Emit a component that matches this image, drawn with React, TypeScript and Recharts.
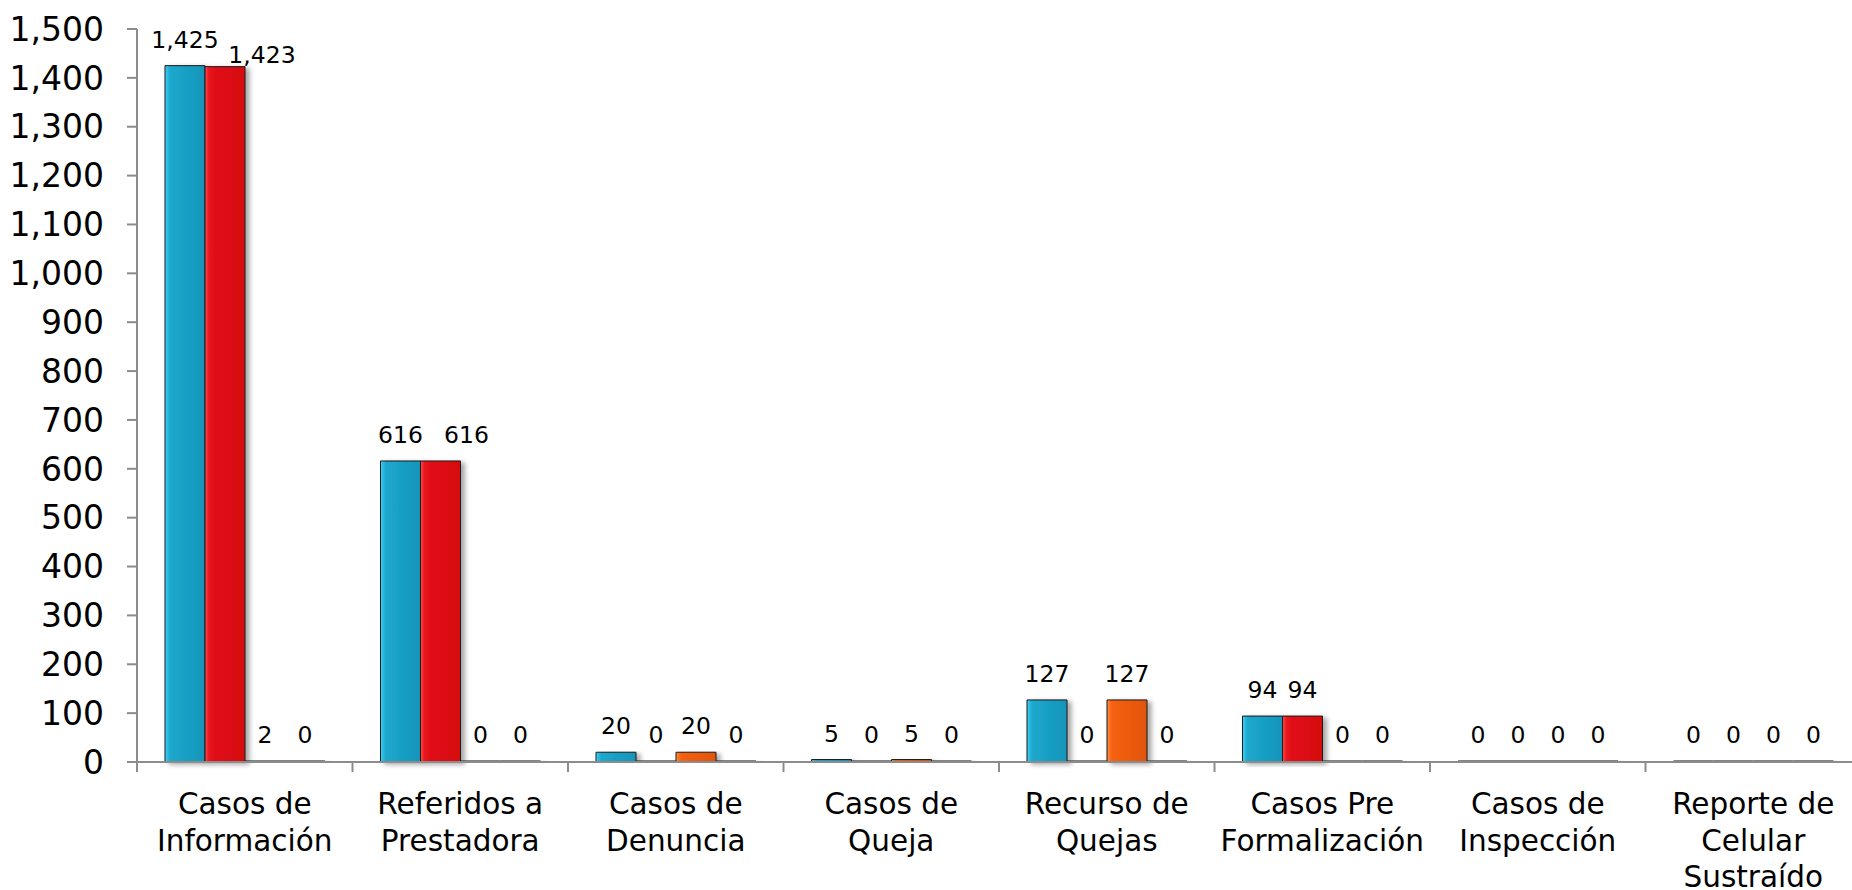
import React from "react";
import { Bar, BarChart, LabelList, XAxis, YAxis } from "recharts";

// Casos por tipo, 4 series agrupadas

const categories = [
  "Casos de\nInformación",
  "Referidos a\nPrestadora",
  "Casos de\nDenuncia",
  "Casos de\nQueja",
  "Recurso de\nQuejas",
  "Casos Pre\nFormalización",
  "Casos de\nInspección",
  "Reporte de\nCelular\nSustraído",
];
const serie1 = [1425, 616, 20, 5, 127, 94, 0, 0];
const serie2 = [1423, 616, 0, 0, 0, 94, 0, 0];
const serie3 = [2, 0, 20, 5, 127, 0, 0, 0];
const serie4 = [0, 0, 0, 0, 0, 0, 0, 0];
const yTicks = [0, 100, 200, 300, 400, 500, 600, 700, 800, 900, 1000, 1100, 1200, 1300, 1400, 1500];

const data = categories.map((name, i) => ({
  name,
  s1: serie1[i],
  s2: serie2[i],
  s3: serie3[i],
  s4: serie4[i],
}));

const FONT = "'DejaVu Sans', sans-serif";
const CHART_W = 1861;
const CHART_H = 890;
const Y_W = 137;
const BAND = (CHART_W - Y_W) / categories.length;
const AXIS = "#8c8c8c";

const fmt = (v: any) => Number(v).toLocaleString("en-US");

function XTick({ x, y, payload }: any) {
  const lines = String(payload.value).split("\n");
  return (
    <g>
      <line x1={x - BAND / 2} x2={x - BAND / 2} y1={y} y2={y + 10} stroke={AXIS} strokeWidth={2} />
      <text x={x} y={y + 52} textAnchor="middle" fontSize={29.5} fill="#000" fontFamily={FONT}>
        {lines.map((l, i) => (
          <tspan key={i} x={x} dy={i === 0 ? 0 : 36.5}>
            {l}
          </tspan>
        ))}
      </text>
    </g>
  );
}

function ValueLabel({ x, y, width, height, value, index, series }: any) {
  // Excel desplaza las etiquetas rojas que chocan con la azul vecina
  let dx = 0;
  let gap = 18;
  if (series === "s2" && index === 0) {
    dx = 37;
    gap = 4;
  } else if (series === "s2" && index === 1) {
    dx = 26;
  }
  const top = Math.min(y, y + height);
  return (
    <text
      x={x + width / 2 + dx}
      y={top - gap}
      textAnchor="middle"
      fontSize={23.5}
      fill="#000"
      fontFamily={FONT}
    >
      {fmt(value)}
    </text>
  );
}

export default function App() {
  return (
    <div style={{ position: "absolute", left: 0, top: 0, width: 1852, height: 890, overflow: "hidden", background: "#fff" }}>
      <BarChart
        width={CHART_W}
        height={CHART_H}
        data={data}
        margin={{ top: 29, right: 0, left: 0, bottom: 0 }}
        barCategoryGap={28}
        barGap={0}
      >
        <defs>
          <linearGradient id="gBlue" x1="0" y1="0" x2="1" y2="0">
            <stop offset="0%" stopColor="#45d2f8" />
            <stop offset="9%" stopColor="#22b2da" />
            <stop offset="14%" stopColor="#1ca7cd" />
            <stop offset="100%" stopColor="#1595b9" />
          </linearGradient>
          <linearGradient id="gRed" x1="0" y1="0" x2="1" y2="0">
            <stop offset="0%" stopColor="#ff4a4a" />
            <stop offset="9%" stopColor="#ef1821" />
            <stop offset="14%" stopColor="#e3121a" />
            <stop offset="100%" stopColor="#d60a0e" />
          </linearGradient>
          <linearGradient id="gOrange" x1="0" y1="0" x2="1" y2="0">
            <stop offset="0%" stopColor="#ff9048" />
            <stop offset="9%" stopColor="#fb6a1a" />
            <stop offset="14%" stopColor="#f46012" />
            <stop offset="100%" stopColor="#e2550a" />
          </linearGradient>
          <linearGradient id="gGreen" x1="0" y1="0" x2="1" y2="0">
            <stop offset="0%" stopColor="#9bd65a" />
            <stop offset="100%" stopColor="#6aa62c" />
          </linearGradient>
          <filter id="shadow" x="-20%" y="-5%" width="150%" height="115%">
            <feDropShadow dx={4} dy={2} stdDeviation={2.5} floodColor="#000" floodOpacity={0.35} />
          </filter>
        </defs>
        <XAxis
          dataKey="name"
          height={128}
          interval={0}
          tickLine={false}
          tickSize={0}
          tickMargin={0}
          tick={<XTick />}
          axisLine={{ stroke: AXIS, strokeWidth: 2 }}
        />
        <YAxis
          width={Y_W}
          domain={[0, 1500]}
          ticks={yTicks}
          interval={0}
          tickSize={10}
          tickMargin={23}
          tickFormatter={fmt}
          tick={{ fontSize: 33, fill: "#000", fontFamily: FONT }}
          tickLine={{ stroke: AXIS, strokeWidth: 2 }}
          axisLine={{ stroke: AXIS, strokeWidth: 2 }}
        />
        <Bar dataKey="s1" fill="url(#gBlue)" stroke="#1a1a1a" strokeWidth={1} filter="url(#shadow)" minPointSize={1} isAnimationActive={false}>
          <LabelList dataKey="s1" content={<ValueLabel series="s1" />} />
        </Bar>
        <Bar dataKey="s2" fill="url(#gRed)" stroke="#1a1a1a" strokeWidth={1} filter="url(#shadow)" minPointSize={1} isAnimationActive={false}>
          <LabelList dataKey="s2" content={<ValueLabel series="s2" />} />
        </Bar>
        <Bar dataKey="s3" fill="url(#gOrange)" stroke="#1a1a1a" strokeWidth={1} filter="url(#shadow)" minPointSize={1} isAnimationActive={false}>
          <LabelList dataKey="s3" content={<ValueLabel series="s3" />} />
        </Bar>
        <Bar dataKey="s4" fill="url(#gGreen)" stroke="#1a1a1a" strokeWidth={1} filter="url(#shadow)" minPointSize={1} isAnimationActive={false}>
          <LabelList dataKey="s4" content={<ValueLabel series="s4" />} />
        </Bar>
      </BarChart>
    </div>
  );
}
